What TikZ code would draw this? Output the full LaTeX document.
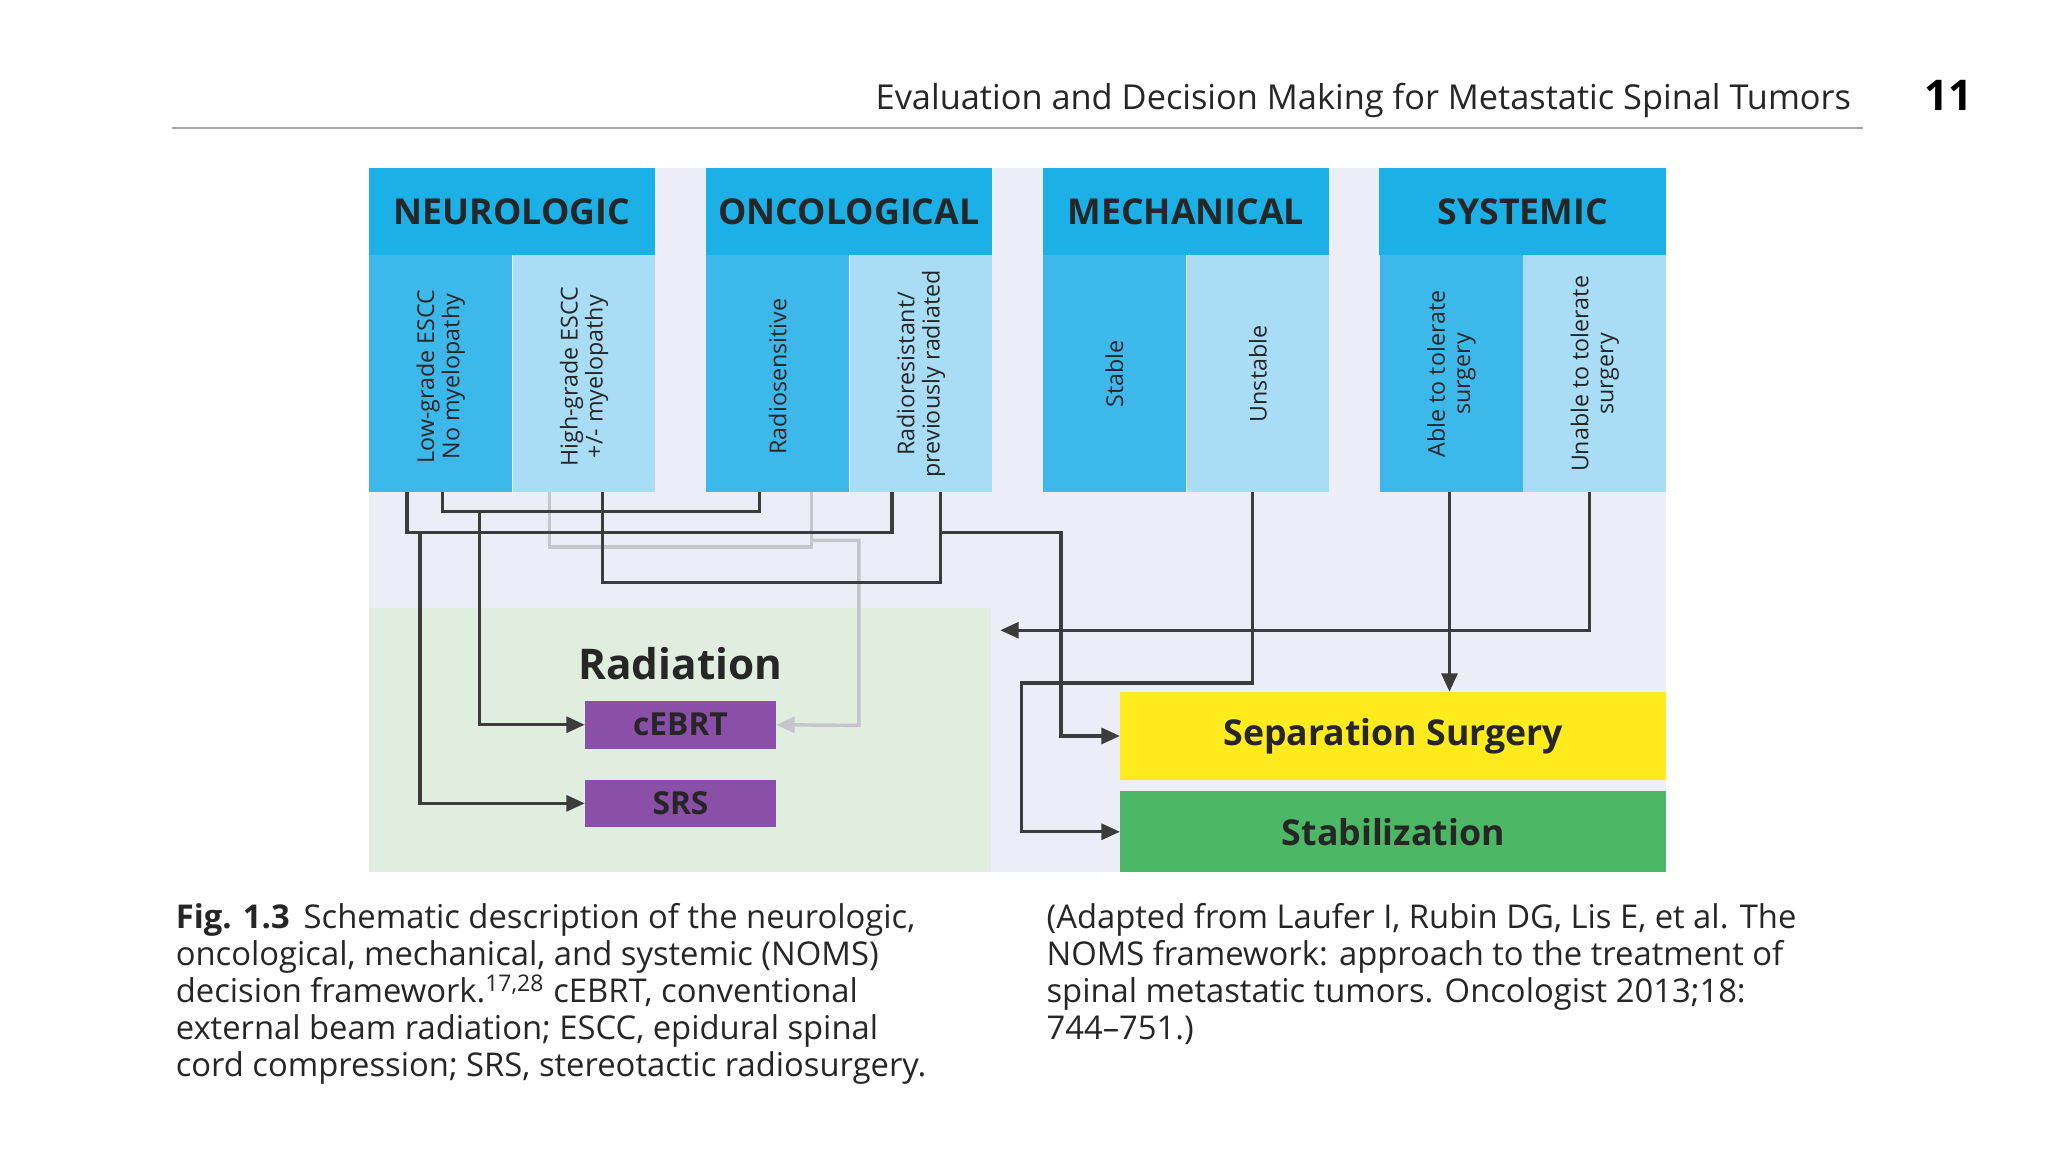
\documentclass[tikz,border=0pt]{standalone}
\usepackage{fontspec}
\setmainfont{Open Sans}
\usetikzlibrary{arrows.meta}
\definecolor{bgl}{HTML}{ECEDF6}
\definecolor{bgg}{HTML}{E0EEE0}
\definecolor{hdr}{HTML}{1BB1E6}
\definecolor{cdk}{HTML}{3DB8EA}
\definecolor{clt}{HTML}{A8DDF5}
\definecolor{purp}{HTML}{8A4FA8}
\definecolor{yel}{HTML}{FFEB1E}
\definecolor{grn}{HTML}{4CB866}
\definecolor{ln}{HTML}{3C3C3C}
\definecolor{lnl}{HTML}{C4C6CC}
\tikzset{
  hdrbox/.style={fill=hdr,draw=none,minimum width=108.5pt,minimum height=33pt,inner sep=0pt,font=\fontsize{13.5}{14}\selectfont\bfseries,text=black!85},
  colbox/.style={draw=none,minimum width=54pt,minimum height=89.5pt,inner sep=0pt},
  coltxt/.style={rotate=90,align=center,font=\fontsize{8.8}{9.5}\selectfont,text=black!85},
  rad/.style={fill=purp,draw=none,minimum width=72pt,minimum height=18pt,inner sep=0pt,font=\fontsize{12}{13}\selectfont\bfseries,text=black!85},
  outbox/.style={draw=none,minimum width=206.5pt,inner sep=0pt,font=\fontsize{13.5}{14}\selectfont\bfseries,text=black!85},
  con/.style={draw=ln,line width=1.3pt,-{Triangle[length=7pt,width=6pt]}},
  conn/.style={draw=ln,line width=1.3pt},
  conl/.style={draw=lnl,line width=1.3pt},
  captxt/.style={anchor=north west,align=left,font=\fontsize{12.4}{14}\selectfont,text=black!85}
}
\begin{document}
\begin{tikzpicture}[x=0.5pt,y=-0.5pt]
\useasboundingbox (0,0) rectangle (1550,872);
\fill[white] (0,0) rectangle (1550,872);
% header
\node[anchor=base east,font=\fontsize{13}{14}\selectfont,text=black!85] (ht) at (1408,83) {Evaluation and Decision Making for Metastatic Spinal Tumors};
\node[anchor=base east,font=\fontsize{16}{16}\selectfont\bfseries] (pg) at (1500,84) {11};
\draw[gray!70,line width=0.9pt] (130,97) -- (1410,97);
% backgrounds
\fill[bgl] (279,127) rectangle (1261,660);
\fill[bgg] (279,460) rectangle (750,660);
% headers
\node[hdrbox] (neu) at (387.5,160) {NEUROLOGIC};
\node[hdrbox] (onc) at (642.5,160) {ONCOLOGICAL};
\node[hdrbox] (mec) at (897.5,160) {MECHANICAL};
\node[hdrbox] (sys) at (1152.5,160) {SYSTEMIC};
% columns
\node[colbox,fill=cdk] (n1) at (333.5,282.5) {};
\node[colbox,fill=clt] (n2) at (442,282.5) {};
\node[colbox,fill=cdk] (o1) at (588.5,282.5) {};
\node[colbox,fill=clt] (o2) at (697,282.5) {};
\node[colbox,fill=cdk] (m1) at (843.5,282.5) {};
\node[colbox,fill=clt] (m2) at (952,282.5) {};
\node[colbox,fill=cdk] (s1) at (1098.5,282.5) {};
\node[colbox,fill=clt] (s2) at (1207,282.5) {};
\node[coltxt] (t1) at (333.5,285) {Low-grade ESCC\\No myelopathy};
\node[coltxt] (t2) at (442,285) {High-grade ESCC\\+/- myelopathy};
\node[coltxt] (t3) at (588.5,285) {Radiosensitive};
\node[coltxt] (t4) at (697,283) {Radioresistant/\\previously radiated};
\node[coltxt] (t5) at (843.5,283) {Stable};
\node[coltxt] (t6) at (952,283) {Unstable};
\node[coltxt] (t7) at (1098.5,283) {Able to tolerate\\surgery};
\node[coltxt] (t8) at (1207,283) {Unable to tolerate\\surgery};
% targets
\node[font=\fontsize{16}{17}\selectfont\bfseries,text=black!85] (radl) at (515,502) {Radiation};
\node[rad] (cebrt) at (515,548.5) {cEBRT};
\node[rad] (srs) at (515,608) {SRS};
\node[outbox,fill=yel,minimum height=33pt] (sep) at (1054.5,557) {Separation Surgery};
\node[outbox,fill=grn,minimum height=30.5pt] (stab) at (1054.5,629.5) {Stabilization};
\coordinate (radin) at (757,477);
% connectors
\draw[conl] (416,372) |- (614,414) -- (614,372);
\draw[conl,-{Triangle[length=7pt,width=6pt]}] (614,409) -| (650,549) -- (cebrt.east);
\draw[conn] (308,372) |- (675,403) -- (675,372);
\draw[con] (318,403) |- (srs.west);
\draw[conn] (335,372) |- (575,387) -- (575,372);
\draw[con] (363,387) |- (cebrt.west);
\draw[conn] (456,372) |- (712,441) -- (712,372);
\draw[con] (712,403) -| (803,557) -- (sep.west);
\draw[con] (948,372) |- (773,517) |- (stab.west);
\draw[con] (1097,372) -- (sep.north -| 1097,0);
\draw[con] (1203,372) |- (radin);
% caption
\node[captxt] (capl) at (126,677) {\textbf{Fig. 1.3}\, Schematic description of the neurologic,\\oncological, mechanical, and systemic (NOMS)\\decision framework.\textsuperscript{17,28} cEBRT, conventional\\external beam radiation; ESCC, epidural spinal\\cord compression; SRS, stereotactic radiosurgery.};
\node[captxt] (capr) at (785,677) {(Adapted from Laufer I, Rubin DG, Lis E, et al. The\\NOMS framework: approach to the treatment of\\spinal metastatic tumors. Oncologist 2013;18:\\744--751.)};
\end{tikzpicture}
\end{document}
